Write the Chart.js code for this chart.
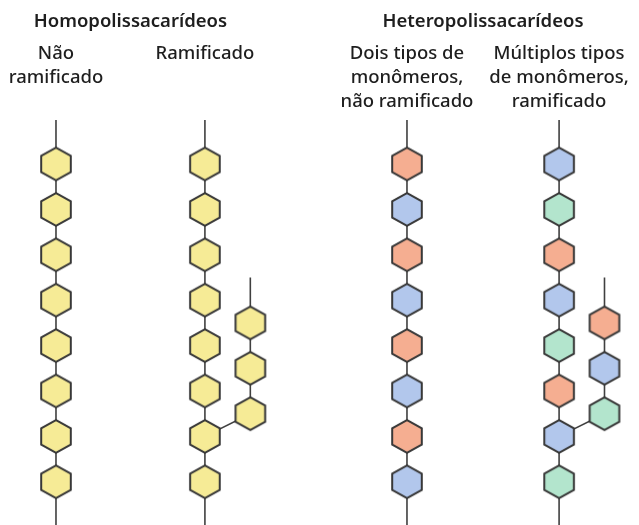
<!DOCTYPE html>
<html>
<head>
<meta charset="utf-8">
<script src="https://cdn.jsdelivr.net/npm/chart.js@4.4.0/dist/chart.umd.min.js"></script>
<style>
  body { margin: 0; background: #fff; }
  #wrap { position: relative; width: 639px; height: 525px; }
  .lbl { position: absolute; transform: translateX(-50%); text-align: center; white-space: nowrap;
         font-family: "Noto Sans", sans-serif; color: #1e1e1e; }
  .head { top: 7px; font-size: 18.5px; line-height: 26px; font-weight: 600; }
  .sub { top: 40px; font-size: 18.5px; line-height: 24px; font-weight: 500; }
</style>
</head>
<body>
<div id="wrap">
  <canvas id="chain" width="639" height="525"></canvas>
</div>
<script>
// groups and their column labels
const headings = ['Homopolissacarídeos', 'Heteropolissacarídeos'];
const headingCols = [[0, 1], [2, 3]];
const chainLabels = [
  ['Não', 'ramificado'],
  ['Ramificado'],
  ['Dois tipos de', 'monômeros,', 'não ramificado'],
  ['Múltiplos tipos', 'de monômeros,', 'ramificado']
];

// column of each chain (in residue widths) and residues from top to bottom
const chainX = [0, 3.28, 7.73, 11.08];
const mainChains = [
  ['Y', 'Y', 'Y', 'Y', 'Y', 'Y', 'Y', 'Y'],
  ['Y', 'Y', 'Y', 'Y', 'Y', 'Y', 'Y', 'Y'],
  ['O', 'B', 'O', 'B', 'O', 'B', 'O', 'B'],
  ['B', 'G', 'O', 'B', 'G', 'O', 'B', 'G']
];
// side branches: residues, slots, and the main residue they hang from
const branchChains = [null, ['Y', 'Y', 'Y'], null, ['O', 'B', 'G']];
const branchSlots = [3.5, 4.5, 5.5];
const branchFrom = 6;
const branchShift = 1;
const chainTop = -0.97, chainBottom = 7.95, branchTop = 2.5;

const fills = { Y: '#f6eb96', O: '#f5ae91', B: '#b2c7ec', G: '#b3e5cd' };

function hexImage(fill) {
  const c = document.createElement('canvas');
  c.width = 34; c.height = 37;
  const g = c.getContext('2d');
  const cx = 17, cy = 18.5, w = 14.8, r = 16.3;
  g.beginPath();
  g.moveTo(cx, cy - r);
  g.lineTo(cx + w, cy - r / 2);
  g.lineTo(cx + w, cy + r / 2);
  g.lineTo(cx, cy + r);
  g.lineTo(cx - w, cy + r / 2);
  g.lineTo(cx - w, cy - r / 2);
  g.closePath();
  g.fillStyle = fill;
  g.fill();
  g.lineWidth = 2;
  g.strokeStyle = '#383838';
  g.stroke();
  return c;
}
const hexes = {};
Object.keys(fills).forEach(k => { hexes[k] = hexImage(fills[k]); });

const datasets = [];
const lineStyle = { showLine: true, pointRadius: 0, borderColor: '#404040', borderWidth: 1.6, order: 2 };

mainChains.forEach((res, i) => {
  const x = chainX[i];
  datasets.push(Object.assign({ data: [{ x: x, y: chainTop }, { x: x, y: chainBottom }] }, lineStyle));
  datasets.push({
    data: res.map((t, j) => ({ x: x, y: j })),
    pointStyle: res.map(t => hexes[t]),
    pointRadius: 16,
    showLine: false,
    order: 0
  });
  const br = branchChains[i];
  if (br) {
    const bx = x + branchShift;
    const last = branchSlots[branchSlots.length - 1];
    datasets.push(Object.assign({ data: [{ x: bx, y: branchTop }, { x: bx, y: last }] }, lineStyle));
    datasets.push(Object.assign({ data: [{ x: x, y: branchFrom }, { x: bx, y: last }] }, lineStyle));
    datasets.push({
      data: br.map((t, j) => ({ x: bx, y: branchSlots[j] })),
      pointStyle: br.map(t => hexes[t]),
      pointRadius: 16,
      showLine: false,
      order: 0
    });
  }
});

const chart = new Chart(document.getElementById('chain'), {
  type: 'scatter',
  data: { datasets: datasets },
  options: {
    responsive: false,
    animation: false,
    events: [],
    layout: { padding: 0, autoPadding: false },
    plugins: { legend: { display: false }, tooltip: { enabled: false } },
    scales: {
      x: { type: 'linear', display: false, min: -1.233, max: 12.84 },
      y: { type: 'linear', display: false, reverse: true, min: -3.612, max: 7.952 }
    }
  }
});

// labels as page text, centred on the chart's columns
const wrap = document.getElementById('wrap');
const px = v => chart.scales.x.getPixelForValue(v);
headings.forEach((h, i) => {
  const d = document.createElement('div');
  d.className = 'lbl head';
  d.textContent = h;
  d.style.left = ((px(chainX[headingCols[i][0]]) + px(chainX[headingCols[i][1]])) / 2) + 'px';
  wrap.appendChild(d);
});
chainLabels.forEach((lines, i) => {
  const d = document.createElement('div');
  d.className = 'lbl sub';
  d.innerHTML = lines.join('<br>');
  d.style.left = px(chainX[i]) + 'px';
  wrap.appendChild(d);
});
</script>
</body>
</html>
